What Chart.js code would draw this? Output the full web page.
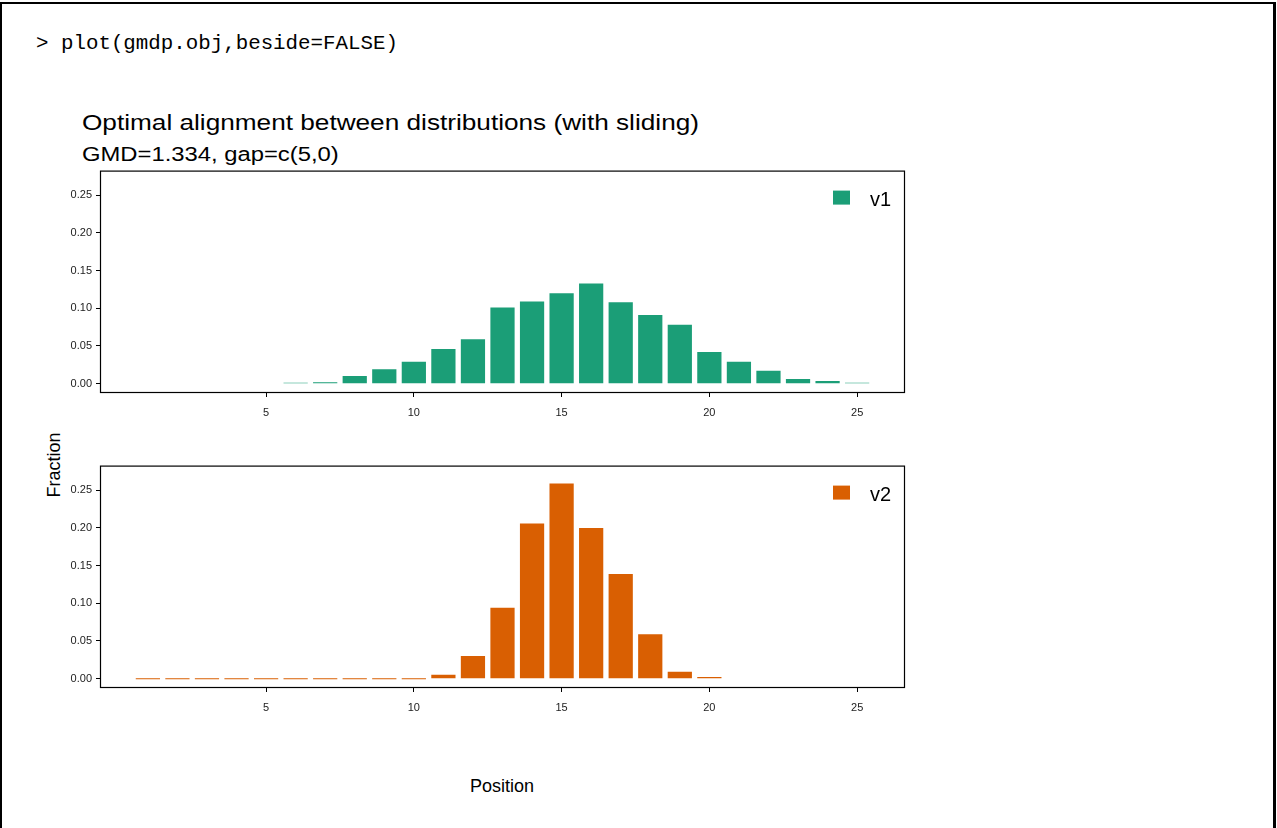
<!DOCTYPE html>
<html>
<head>
<meta charset="utf-8">
<title>gmdp.obj plot</title>
<script src="https://cdn.jsdelivr.net/npm/chart.js@4.4.1/dist/chart.umd.min.js"></script>
<style>
  html, body { margin: 0; padding: 0; background: #fff; overflow: hidden; }
  body { width: 1277px; height: 828px; position: relative; font-family: "Liberation Sans", Arial, sans-serif; }
  .frame { position: absolute; left: 0; top: 2px; width: 1271px; height: 900px; border: 2px solid #000; border-right-width: 3px; border-bottom: none; }
  .txt { position: absolute; white-space: nowrap; line-height: 1; color: #000; }
  .cmd { left: 36px; top: 34px; font-family: "Liberation Mono", monospace; font-size: 20.8px; }
  .title { left: 82px; top: 112px; font-size: 22px; transform: scaleX(1.19); transform-origin: 0 0; }
  .subtitle { left: 82px; top: 144px; font-size: 20px; transform: scaleX(1.19); transform-origin: 0 0; }
  .ylab { left: 54px; top: 465px; font-size: 18px; transform: translate(-50%, -50%) rotate(-90deg); }
  .xlab { left: 502px; top: 786px; font-size: 18px; transform: translate(-50%, -50%); }
  .panel { position: absolute; left: 0; width: 920px; height: 265px; }
</style>
</head>
<body>
<div class="frame"></div>
<div class="txt cmd">&gt; plot(gmdp.obj,beside=FALSE)</div>
<div class="txt title">Optimal alignment between distributions (with sliding)</div>
<div class="txt subtitle">GMD=1.334, gap=c(5,0)</div>
<div class="txt ylab">Fraction</div>
<div class="txt xlab">Position</div>
<div class="panel" style="top:160px"><canvas id="chartV1"></canvas></div>
<div class="panel" style="top:455px"><canvas id="chartV2"></canvas></div>

<script>
// positions 1..25 along the x axis
const positions = [1, 2, 3, 4, 5, 6, 7, 8, 9, 10, 11, 12, 13, 14, 15, 16, 17, 18, 19, 20, 21, 22, 23, 24, 25]

// v1 is shifted by the gap of 5, so it starts at position 6
const v1Values = [null, null, null, null, null,
    0.0005, 0.002, 0.010, 0.019, 0.029, 0.046, 0.059, 0.101, 0.109, 0.120,
    0.133, 0.108, 0.091, 0.078, 0.042, 0.029, 0.017, 0.006, 0.0035, 0.001]

const v2Values = [0, 0, 0, 0, 0, 0, 0, 0, 0, 0,
    0.005, 0.030, 0.094, 0.206, 0.259, 0.200, 0.139, 0.059, 0.009, 0.0022,
    null, null, null, null, null]

const seriesNames = ['v1', 'v2']
const seriesColors = ['#1B9E77', '#D95F02']

const xTicks = [5, 10, 15, 20, 25]
const yTicks = [0, 0.05, 0.10, 0.15, 0.20, 0.25]

const tickFont = { family: '"Liberation Sans", Arial, sans-serif', size: 11 }

// R style box round the plot region
const boxFrame = {
    id: 'boxFrame',
    afterDraw(chart) {
        const { ctx, chartArea } = chart
        ctx.save()
        ctx.strokeStyle = '#000'
        ctx.lineWidth = 1.2
        ctx.strokeRect(chartArea.left + 0.5, chartArea.top + 0.5,
            chartArea.right - chartArea.left - 1, chartArea.bottom - chartArea.top)
        ctx.restore()
    }
}

// legend drawn inside the top right corner of the plot
const insetLegend = {
    id: 'insetLegend',
    afterDraw(chart) {
        const { ctx, chartArea } = chart
        const ds = chart.data.datasets[0]
        const boxX = chartArea.right - 72
        const boxY = chartArea.top + 20
        ctx.save()
        ctx.fillStyle = ds.backgroundColor
        ctx.fillRect(boxX, boxY, 17, 14)
        ctx.fillStyle = '#000'
        ctx.font = '20px "Liberation Sans", Arial, sans-serif'
        ctx.textBaseline = 'alphabetic'
        ctx.fillText(ds.label, boxX + 37, boxY + 15)
        ctx.restore()
    }
}

function makeChart(canvasId, name, values, color) {
    const points = positions.map((p, i) => ({ x: p, y: values[i] }))
    return new Chart(document.getElementById(canvasId), {
        type: 'bar',
        data: {
            datasets: [{
                label: name,
                data: points,
                backgroundColor: color,
                borderWidth: 0,
                minBarLength: 1,
                barPercentage: 0.82,
                categoryPercentage: 1
            }]
        },
        options: {
            responsive: true,
            maintainAspectRatio: false,
            animation: false,
            layout: { padding: { top: 10, right: 15, left: 0, bottom: 0 } },
            plugins: {
                legend: { display: false },
                tooltip: { enabled: false }
            },
            scales: {
                x: {
                    type: 'linear',
                    min: -0.62,
                    max: 26.62,
                    offset: false,
                    afterFit: scale => { scale.height = 33 },
                    afterBuildTicks: scale => { scale.ticks = xTicks.map(v => ({ value: v })) },
                    grid: { drawOnChartArea: false, drawTicks: true, tickLength: 5, tickColor: '#000', offset: false },
                    border: { display: false },
                    ticks: { color: '#222', font: tickFont, padding: 9, maxRotation: 0, autoSkip: false }
                },
                y: {
                    min: -0.0111,
                    max: 0.2827,
                    afterFit: scale => { scale.width = 100 },
                    afterBuildTicks: scale => { scale.ticks = yTicks.map(v => ({ value: v })) },
                    grid: { drawOnChartArea: false, drawTicks: true, tickLength: 4, tickColor: '#000' },
                    border: { display: false },
                    ticks: { color: '#222', font: tickFont, padding: 4, callback: v => v.toFixed(2) }
                }
            }
        },
        plugins: [boxFrame, insetLegend]
    })
}

makeChart('chartV1', seriesNames[0], v1Values, seriesColors[0])
makeChart('chartV2', seriesNames[1], v2Values, seriesColors[1])
</script>
</body>
</html>
